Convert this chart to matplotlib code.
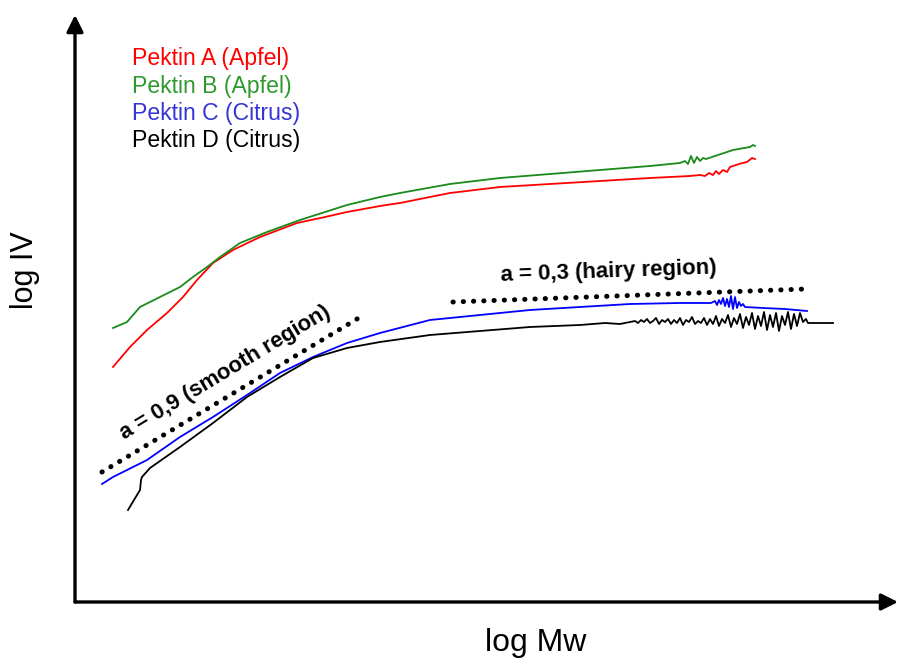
import numpy as np
import matplotlib
matplotlib.use("Agg")
import matplotlib.pyplot as plt

plt.rcParams['font.family'] = ['Liberation Sans', 'DejaVu Sans']

# values (arbitrary log units, origin at the axes corner)
a_x = [38, 55, 72, 92, 108, 122, 138, 158, 185, 222, 250, 272, 305, 325, 375,
       425, 475, 525, 575, 615, 625, 630, 634, 638, 641, 644, 648, 652, 655,
       664, 672, 677, 680]
a_y = [235, 255, 272, 289, 305, 322, 339, 352, 365, 379, 385, 390, 396, 399, 409,
       415, 418, 421, 424, 426, 427, 426, 429, 427, 431, 428, 432, 430, 435,
       438, 440, 444, 443]

b_x = [38, 52, 65, 85, 105, 118, 132, 145, 165, 192, 225, 250, 272, 305, 325,
       375, 425, 475, 525, 575, 605, 610, 613, 616, 619, 622, 625, 628, 631,
       640, 658, 675, 678, 680]
b_y = [274, 280, 295, 305, 315, 325, 335, 345, 359, 370, 382, 390, 397, 405, 409,
       418, 424, 428, 432, 436, 439, 441, 438, 446, 439, 445, 441, 444, 443,
       446, 452, 455, 457, 456]

c_x = [27, 38, 72, 105, 138, 172, 205, 238, 272, 305, 355, 405, 455, 505, 555,
       605, 636, 640, 642, 644, 646, 648, 650, 652, 654, 656, 658, 660, 662,
       664, 666, 668, 670, 688, 710, 732]
c_y = [118, 125, 142, 165, 185, 207, 229, 245, 259, 269, 282, 287, 292, 295, 298,
       299, 299, 301, 297, 302, 298, 304, 296, 303, 295, 306, 293, 305, 294,
       300, 296, 298, 295, 294, 293, 291]

d_x = [53, 65, 66, 67, 75, 105, 138, 172, 205, 238, 272, 305, 355, 405, 455,
       505, 530, 545, 560, 563, 566, 569, 572, 575, 578, 581, 584, 587, 590,
       593, 596, 599, 602, 605, 608, 611, 614, 617, 620, 623, 626, 629, 632,
       635, 638, 641, 644, 647, 650, 653, 656, 659, 662, 665, 668, 671, 674,
       677, 680, 683, 686, 689, 692, 695, 698, 701, 704, 707, 710, 713, 716,
       719, 722, 725, 728, 731, 733, 758]
d_y = [92, 112, 122, 125, 134, 155, 179, 205, 225, 244, 254, 260, 267, 271, 275,
       277, 279, 278, 281, 279, 282, 280, 283, 279, 281, 284, 278, 282, 280,
       283, 278, 282, 279, 284, 277, 282, 280, 285, 278, 281, 279, 284, 277,
       283, 278, 286, 276, 283, 279, 287, 275, 284, 278, 288, 274, 285, 277,
       289, 273, 286, 276, 290, 272, 287, 275, 289, 271, 286, 277, 290, 273,
       288, 276, 289, 280, 283, 279, 279]

smooth_x = [27, 287]
smooth_y = [130, 286]
hairy_x = [378, 730]
hairy_y = [300, 313]

labels = ['Pektin A (Apfel)', 'Pektin B (Apfel)', 'Pektin C (Citrus)', 'Pektin D (Citrus)']
line_colors = ['#ff0000', '#1a8a1a', '#0000ff', '#000000']
text_colors = ['#ff0000', '#2e9a2e', '#3535d5', '#000000']

fig = plt.figure(figsize=(9.04, 6.59), dpi=100)
ax = fig.add_axes([75 / 904, 57 / 659, 823 / 904, 587 / 659])
ax.set_xlim(0, 823)
ax.set_ylim(0, 587)
ax.axis('off')

for xs, ys, col in zip([a_x, b_x, c_x, d_x], [a_y, b_y, c_y, d_y], line_colors):
    ax.plot(xs, ys, color=col, lw=1.3)

for xs, ys in [(smooth_x, smooth_y), (hairy_x, hairy_y)]:
    ax.plot(xs, ys, color='black', lw=3.6, linestyle=(0, (0.05, 2.0)),
            dash_capstyle='round')

ax.text(150, 229, 'a = 0,9 (smooth region)', fontsize=15.8, fontweight='bold',
        rotation=31, rotation_mode='anchor', ha='center', va='center')
ax.text(534, 330, 'a = 0,3 (hairy region)', fontsize=16, fontweight='bold',
        rotation=2, rotation_mode='anchor', ha='center', va='center')

for i, (lab, col) in enumerate(zip(labels, text_colors)):
    ax.text(57, 537 - 27.5 * i, lab, color=col, fontsize=16.6, va='baseline')

# axes with arrow heads
arrow = dict(arrowstyle='-|>', lw=2.4, color='black', mutation_scale=25,
             shrinkA=0, shrinkB=0)
ax.annotate('', xy=(1, 0), xytext=(0, 0), xycoords='axes fraction', arrowprops=arrow)
ax.annotate('', xy=(0, 1), xytext=(0, 0), xycoords='axes fraction', arrowprops=arrow)

fig.text(25 / 904, 1 - 270 / 659, 'log IV', fontsize=22, rotation=90,
         ha='center', va='center')
fig.text(536 / 904, 1 - 651 / 659, 'log Mw', fontsize=23, ha='center', va='baseline')

fig.savefig('out.png', dpi=100)
